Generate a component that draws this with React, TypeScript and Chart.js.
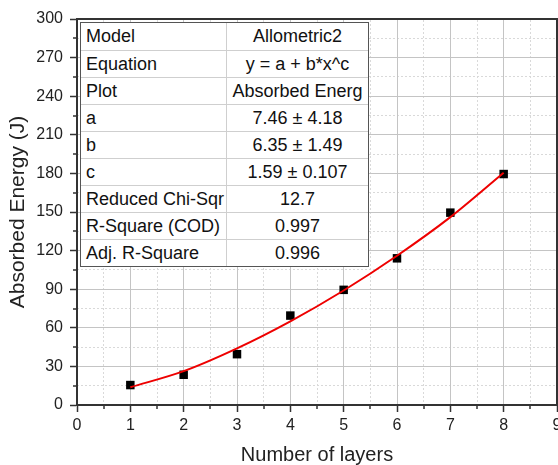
import React, { useEffect, useRef } from "react";
import { Chart, registerables } from "chart.js";

Chart.register(...registerables);

const FONT = "'Liberation Sans', Arial, Helvetica, sans-serif";

// measured data points (Number of layers vs Absorbed Energy)
const layers = [1, 2, 3, 4, 5, 6, 7, 8];
const absorbedEnergy = [15.5, 23.5, 39.5, 69.5, 89.5, 114, 149.5, 179.5];

// fitted curve values
const fitLayers = [1, 2, 3, 4, 5, 6, 7, 8];
const fitEnergy = [13.8, 26.3, 44, 65, 89, 116, 146, 180.5];

// axes
const xMin = 0;
const xMax = 9;
const xStep = 1;
const xMinorStep = 0.5;
const yMin = 0;
const yMax = 300;
const yStep = 30;
const yMinorStep = 15;

// fit report table
const tableLabels = [
  "Model",
  "Equation",
  "Plot",
  "a",
  "b",
  "c",
  "Reduced Chi-Sqr",
  "R-Square (COD)",
  "Adj. R-Square",
];
const tableValues = [
  "Allometric2",
  "y = a + b*x^c",
  "Absorbed Energ",
  "7.46 \u00b1 4.18",
  "6.35 \u00b1 1.49",
  "1.59 \u00b1 0.107",
  "12.7",
  "0.997",
  "0.996",
];

const AXIS = "#333333";

const minorTickPlugin = {
  id: "minorTicks",
  afterDraw(chart: any) {
    const { ctx, chartArea, scales } = chart;
    const xm = scales.xMinor;
    const ym = scales.yMinor;
    ctx.save();
    ctx.strokeStyle = AXIS;
    ctx.lineWidth = 1.5;
    ctx.beginPath();
    xm.ticks.forEach((t: any) => {
      if (Math.abs(t.value - Math.round(t.value / xStep) * xStep) < 1e-6) return;
      const px = Math.round(xm.getPixelForValue(t.value));
      ctx.moveTo(px, chartArea.bottom + 1);
      ctx.lineTo(px, chartArea.bottom + 4);
    });
    ym.ticks.forEach((t: any) => {
      if (Math.abs(t.value - Math.round(t.value / yStep) * yStep) < 1e-6) return;
      const py = Math.round(ym.getPixelForValue(t.value));
      ctx.moveTo(chartArea.left - 1, py);
      ctx.lineTo(chartArea.left - 4, py);
    });
    ctx.stroke();
    ctx.restore();
  },
};

export default function App() {
  const canvasRef = useRef<HTMLCanvasElement | null>(null);

  useEffect(() => {
    if (!canvasRef.current) return;
    Chart.defaults.font.family = FONT;
    const chart = new Chart(canvasRef.current, {
      type: "scatter",
      data: {
        datasets: [
          {
            type: "line",
            label: "Fit",
            data: fitLayers.map((x, i) => ({ x, y: fitEnergy[i] })),
            borderColor: "#ee0000",
            borderWidth: 2,
            pointRadius: 0,
            fill: false,
            cubicInterpolationMode: "monotone",
            order: 0,
          } as any,
          {
            label: "Absorbed Energy",
            data: layers.map((x, i) => ({ x, y: absorbedEnergy[i] })),
            pointStyle: "rect",
            pointRadius: 6,
            backgroundColor: "#000000",
            borderColor: "#000000",
            borderWidth: 0,
            order: 1,
          },
        ],
      },
      options: {
        animation: false,
        responsive: false,
        devicePixelRatio: 1,
        layout: { padding: 0, autoPadding: false },
        plugins: {
          legend: { display: false },
          tooltip: { enabled: false },
        },
        scales: {
          x: {
            type: "linear",
            position: "bottom",
            min: xMin,
            max: xMax,
            ticks: {
              stepSize: xStep,
              color: "#222",
              font: { size: 16 },
              padding: 4,
              maxRotation: 0,
            },
            grid: {
              color: "#c4c4c4",
              lineWidth: 1,
              tickLength: 7,
              tickColor: AXIS,
              tickWidth: 1.5,
            },
            border: { display: true, color: AXIS, width: 2 },
            title: {
              display: true,
              text: "Number of layers",
              color: "#222",
              font: { size: 20 },
              padding: { top: 0, bottom: -2 },
            },
            afterFit(s: any) {
              s.height = 60;
              s.paddingLeft = 0;
              s.paddingRight = 0;
            },
          },
          y: {
            type: "linear",
            position: "left",
            min: yMin,
            max: yMax,
            ticks: {
              stepSize: yStep,
              color: "#222",
              font: { size: 16 },
              padding: 7,
            },
            grid: {
              color: "#c4c4c4",
              lineWidth: 1,
              tickLength: 7,
              tickColor: AXIS,
              tickWidth: 1.5,
            },
            border: { display: true, color: AXIS, width: 2 },
            title: {
              display: true,
              text: "Absorbed Energy (J)",
              color: "#222",
              font: { size: 21 },
              padding: { top: 6, bottom: 0 },
            },
            afterFit(s: any) {
              s.width = 77;
              s.paddingTop = 0;
              s.paddingBottom = 0;
            },
          },
          xMinor: {
            type: "linear",
            position: "top",
            min: xMin,
            max: xMax,
            ticks: { display: false, stepSize: xMinorStep },
            grid: { color: "#d9d9d9", lineWidth: 1, drawTicks: false, z: -2 },
            border: { display: true, color: AXIS, width: 2, dash: [2, 2] },
            afterFit(s: any) {
              s.height = 19;
              s.paddingLeft = 0;
              s.paddingRight = 0;
            },
          },
          yMinor: {
            type: "linear",
            position: "right",
            min: yMin,
            max: yMax,
            ticks: { display: false, stepSize: yMinorStep },
            grid: { color: "#d9d9d9", lineWidth: 1, drawTicks: false, z: -2 },
            border: { display: true, color: AXIS, width: 2, dash: [2, 2] },
            afterFit(s: any) {
              s.width = 1;
              s.paddingTop = 0;
              s.paddingBottom = 0;
            },
          },
        },
      } as any,
      plugins: [minorTickPlugin],
    });
    return () => chart.destroy();
  }, []);

  return (
    <div style={{ position: "absolute", left: 0, top: 0, width: 558, height: 465, background: "#fff" }}>
      <canvas ref={canvasRef} width={558} height={465} style={{ display: "block", width: 558, height: 465 }} />
      <div
        style={{
          position: "absolute",
          left: 80,
          top: 22,
          width: 289,
          height: 245,
          boxSizing: "border-box",
          border: "1px solid #555",
          background: "#fff",
          fontFamily: FONT,
          fontSize: 18,
          color: "#111",
          display: "flex",
          flexDirection: "column",
        }}
      >
        {tableLabels.map((label, i) => (
          <div
            key={label}
            style={{
              display: "flex",
              height: 27,
              boxSizing: "border-box",
              borderTop: i === 0 ? "none" : "1px solid #cfcfcf",
            }}
          >
            <div
              style={{
                width: 146,
                boxSizing: "border-box",
                borderRight: "1px solid #cfcfcf",
                paddingLeft: 5,
                display: "flex",
                alignItems: "center",
                whiteSpace: "nowrap",
              }}
            >
              {label}
            </div>
            <div
              style={{
                flex: 1,
                display: "flex",
                alignItems: "center",
                justifyContent: "center",
                whiteSpace: "nowrap",
                overflow: "hidden",
              }}
            >
              {tableValues[i]}
            </div>
          </div>
        ))}
      </div>
    </div>
  );
}
